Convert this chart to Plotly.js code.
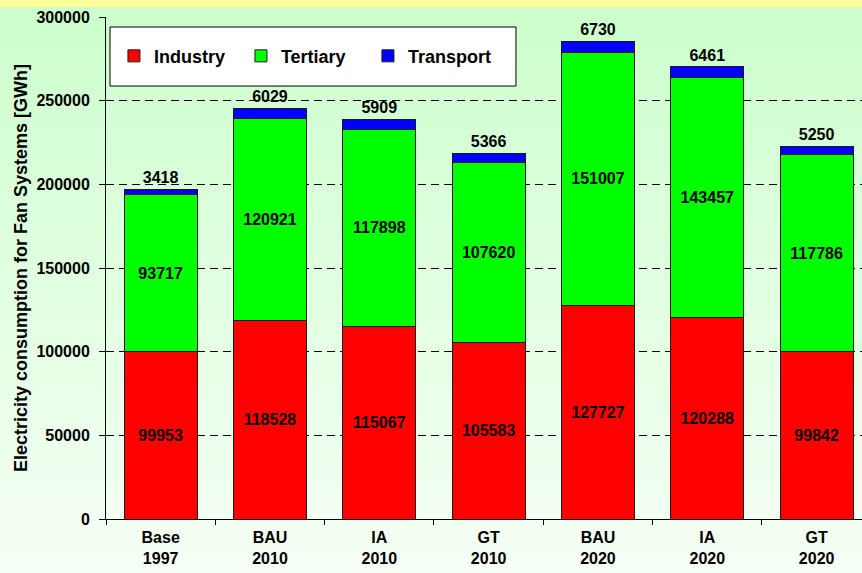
<!DOCTYPE html>
<html>
<head>
<meta charset="utf-8">
<script src="https://cdn.plot.ly/plotly-3.0.1.min.js"></script>
<style>
  html, body { margin: 0; padding: 0; }
  body {
    width: 862px; height: 573px; overflow: hidden;
    background: linear-gradient(to bottom, #FFFF99 0px, #FFFF99 7px, #CCFFCC 7px, #F6FFF6 573px);
  }
  #chart { width: 862px; height: 573px; }
</style>
</head>
<body>
<div id="chart"></div>
<script>
// Scenario categories (two-line tick labels)
const categories = ["Base<br>1997", "BAU<br>2010", "IA<br>2010", "GT<br>2010", "BAU<br>2020", "IA<br>2020", "GT<br>2020"];

// Electricity consumption by sector [GWh]
const industry  = [99953, 118528, 115067, 105583, 127727, 120288, 99842];
const tertiary  = [93717, 120921, 117898, 107620, 151007, 143457, 117786];
const transport = [3418, 6029, 5909, 5366, 6730, 6461, 5250];

const yTicks = [0, 50000, 100000, 150000, 200000, 250000, 300000];

const FONT = "Arial, 'Liberation Sans', Helvetica, sans-serif";
const outline = { color: "#1a1a1a", width: 1 };

function series(name, values, color, pos) {
  return {
    type: "bar",
    name: name,
    x: categories,
    y: values,
    text: values.map(String),
    textposition: pos,
    insidetextanchor: "middle",
    textangle: 0,
    cliponaxis: false,
    textfont: { family: FONT, size: 16, color: "#000", weight: 700 },
    marker: { color: color, line: outline },
    hoverinfo: "none"
  };
}

const data = [
  series("Industry", industry, "#FF0000", "inside"),
  series("Tertiary", tertiary, "#00FF00", "inside"),
  series("Transport", transport, "#0000FF", "outside")
];

const layout = {
  width: 862,
  height: 573,
  paper_bgcolor: "rgba(0,0,0,0)",
  plot_bgcolor: "rgba(0,0,0,0)",
  margin: { l: 106, r: 0, t: 17, b: 54, pad: 0 },
  barmode: "stack",
  bargap: 0.33,
  showlegend: true,
  font: { family: FONT, size: 16, color: "#000" },
  xaxis: {
    type: "category",
    range: [-0.5, 6.415],
    showline: true,
    linecolor: "#000",
    linewidth: 1,
    ticks: "outside",
    tickson: "boundaries",
    ticklen: 5,
    tickcolor: "#000",
    showgrid: false,
    tickfont: { family: FONT, size: 16, color: "#000", weight: 700 },
    ticklabelstandoff: 4,
    fixedrange: true
  },
  yaxis: {
    range: [0, 300000],
    tickvals: yTicks,
    ticktext: yTicks.map(String),
    showline: true,
    linecolor: "#000",
    linewidth: 1,
    ticks: "outside",
    ticklen: 6,
    tickcolor: "#000",
    showgrid: true,
    gridcolor: "#000",
    gridwidth: 1,
    griddash: "8px,5px",
    zeroline: false,
    tickfont: { family: FONT, size: 16, color: "#000", weight: 700 },
    ticklabelstandoff: 6,
    title: {
      text: "Electricity consumption for Fan Systems [GWh]",
      font: { family: FONT, size: 18, color: "#000", weight: 700 },
      standoff: 4
    },
    fixedrange: true
  },
  legend: {
    orientation: "h",
    x: 0.0105,
    xanchor: "left",
    y: 0.922,
    yanchor: "middle",
    bgcolor: "rgba(0,0,0,0)",
    borderwidth: 0,
    traceorder: "normal",
    entrywidth: 82,
    entrywidthmode: "pixels",
    font: { family: FONT, size: 18, color: "#000", weight: 700 }
  },
  shapes: [
    {
      type: "rect", xref: "paper", yref: "paper",
      x0: 0.0053, x1: 0.5423, y0: 0.8625, y1: 0.9801,
      fillcolor: "#FFFFFF",
      line: { color: "#000", width: 1 },
      layer: "below"
    }
  ]
};

Plotly.newPlot("chart", data, layout, { displayModeBar: false, staticPlot: true });
</script>
</body>
</html>
